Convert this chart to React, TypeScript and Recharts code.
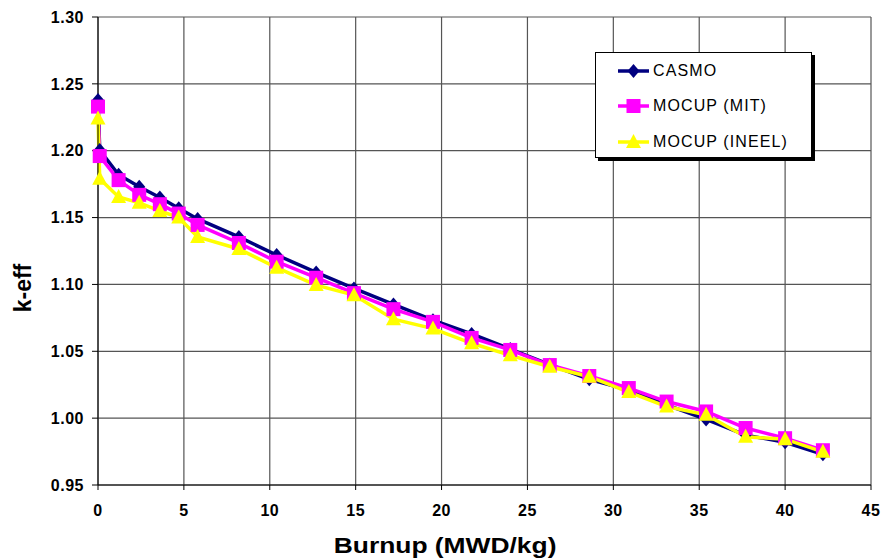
import React from "react";
import { LineChart, Line, XAxis, YAxis, CartesianGrid, Legend } from "recharts";

const burnup = [0, 0.1, 1.2, 2.4, 3.6, 4.7, 5.8, 8.2, 10.4, 12.7, 14.9, 17.2, 19.5, 21.75, 24.0, 26.3, 28.6, 30.9, 33.1, 35.4, 37.7, 40.0, 42.2];
const casmo = [1.238, 1.2005, 1.182, 1.173, 1.165, 1.157, 1.149, 1.1355, 1.122, 1.109, 1.097, 1.085, 1.0733, 1.063, 1.0517, 1.04, 1.029, 1.021, 1.01, 0.999, 0.9873, 0.982, 0.973];
const mocupMit = [1.233, 1.196, 1.178, 1.167, 1.16, 1.153, 1.1445, 1.131, 1.117, 1.105, 1.0935, 1.0815, 1.072, 1.06, 1.051, 1.0397, 1.0315, 1.0225, 1.0124, 1.005, 0.9926, 0.985, 0.976];
const mocupIneel = [1.224, 1.179, 1.1654, 1.161, 1.155, 1.15, 1.1355, 1.1265, 1.1125, 1.0995, 1.092, 1.074, 1.067, 1.056, 1.047, 1.0384, 1.031, 1.0195, 1.0087, 1.0025, 0.986, 0.9843, 0.9748];

const xTicks = [0, 5, 10, 15, 20, 25, 30, 35, 40, 45];
const yTicks = [0.95, 1.0, 1.05, 1.1, 1.15, 1.2, 1.25, 1.3];

const data = burnup.map((b, i) => ({
  burnup: b,
  casmo: casmo[i],
  mit: mocupMit[i],
  ineel: mocupIneel[i],
}));

const FONT = '"Liberation Sans", Arial, sans-serif';
const NAVY = "#000080";
const MAGENTA = "#ff00ff";
const YELLOW = "#ffff00";

const diamond = (cx: number, cy: number, fill: string, key?: string) => (
  <polygon key={key} points={`${cx},${cy - 7} ${cx + 6},${cy} ${cx},${cy + 7} ${cx - 6},${cy}`} fill={fill} />
);
const square = (cx: number, cy: number, fill: string, key?: string) => (
  <rect key={key} x={cx - 7} y={cy - 7} width={14} height={14} fill={fill} />
);
const triangle = (cx: number, cy: number, fill: string, key?: string) => (
  <polygon key={key} points={`${cx},${cy - 8} ${cx + 7.5},${cy + 6} ${cx - 7.5},${cy + 6}`} fill={fill} />
);

const dotOf = (shape: typeof diamond, fill: string, name: string) => (p: any) => {
  if (p.cx == null || p.cy == null) return <g key={`${name}-${p.index}`} />;
  return shape(p.cx, p.cy, fill, `${name}-${p.index}`);
};

const legendItems = [
  { label: "CASMO", color: NAVY, shape: diamond },
  { label: "MOCUP (MIT)", color: MAGENTA, shape: square },
  { label: "MOCUP (INEEL)", color: YELLOW, shape: triangle },
];

const renderLegend = () => (
  <div
    style={{
      width: 217,
      height: 106,
      boxSizing: "border-box",
      border: "1px solid #000",
      background: "#fff",
      boxShadow: "3px 3px 0 #000",
      fontFamily: FONT,
      fontSize: 16,
      letterSpacing: 1.1,
    }}
  >
    {legendItems.map((it) => (
      <div key={it.label} style={{ display: "flex", alignItems: "center", height: 35.5 }}>
        <svg width={57} height={20}>
          <line x1={22} y1={10} x2={53} y2={10} stroke={it.color} strokeWidth={3.5} />
          {it.shape(37.5, 10, it.color)}
        </svg>
        <span style={{ color: "#000" }}>{it.label}</span>
      </div>
    ))}
  </div>
);

const tickStyle = { fill: "#000", fontSize: 16, fontWeight: "bold", fontFamily: FONT, letterSpacing: 0.5 };

export default function App() {
  return (
    <div style={{ position: "absolute", left: 0, top: 0 }}>
      <LineChart
        width={883}
        height={558}
        data={data}
        margin={{ top: 17, right: 12, bottom: 0, left: 8 }}
        style={{ fontFamily: FONT }}
      >
        <CartesianGrid stroke="#555" strokeWidth={1.2} />
        <XAxis
          dataKey="burnup"
          type="number"
          domain={[0, 45]}
          ticks={xTicks}
          interval={0}
          height={73}
          stroke="#000"
          tickSize={5}
          tickMargin={15}
          tick={tickStyle}
          label={{
            content: (p: any) => {
              const vb = p.viewBox;
              const x = vb.x + vb.width * 0.449;
              const y = vb.y + 68;
              return (
                <text transform={`translate(${x} ${y}) scale(1.2 1)`} textAnchor="middle" fontSize={22} fontWeight="bold" fontFamily={FONT} fill="#000">
                  Burnup (MWD/kg)
                </text>
              );
            },
          }}
        />
        <YAxis
          type="number"
          domain={[0.95, 1.3]}
          ticks={yTicks}
          interval={0}
          width={90}
          stroke="#000"
          tickSize={6}
          tickMargin={8}
          tickFormatter={(v: number) => v.toFixed(2)}
          tick={tickStyle}
          label={{
            content: (p: any) => {
              const vb = p.viewBox;
              const x = vb.x + 15;
              const y = vb.y + vb.height / 2 + 37;
              return (
                <text x={x} y={y} transform={`rotate(-90 ${x} ${y})`} textAnchor="middle" dominantBaseline="central" fontSize={23} fontWeight="bold" fontFamily={FONT} fill="#000">
                  k-eff
                </text>
              );
            },
          }}
        />
        <Legend
          layout="horizontal"
          verticalAlign="middle"
          align="center"
          content={renderLegend}
          wrapperStyle={{ position: "absolute", left: 595, top: 52, width: 217, height: 106 }}
        />
        <Line dataKey="casmo" name="CASMO" stroke={NAVY} strokeWidth={3.5} isAnimationActive={false} dot={dotOf(diamond, NAVY, "c")} activeDot={false} />
        <Line dataKey="mit" name="MOCUP (MIT)" stroke={MAGENTA} strokeWidth={3.5} isAnimationActive={false} dot={dotOf(square, MAGENTA, "m")} activeDot={false} />
        <Line dataKey="ineel" name="MOCUP (INEEL)" stroke={YELLOW} strokeWidth={3.5} isAnimationActive={false} dot={dotOf(triangle, YELLOW, "i")} activeDot={false} />
      </LineChart>
    </div>
  );
}
